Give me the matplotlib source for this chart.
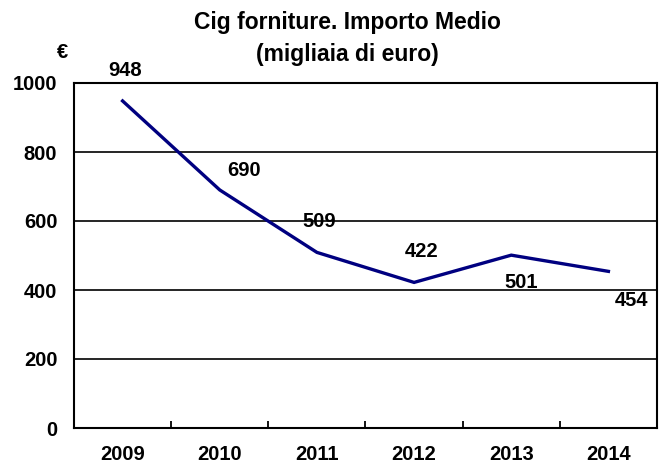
import matplotlib
matplotlib.use("Agg")
import matplotlib.pyplot as plt

years = ["2009", "2010", "2011", "2012", "2013", "2014"]
values = [948, 690, 509, 422, 501, 454]
label_offsets = [(2, 30), (24, 19), (2, 31), (7, 31), (10, -27), (23, -29)]
yticks = [0, 200, 400, 600, 800, 1000]

plt.rcParams['font.family'] = ['Liberation Sans', 'DejaVu Sans']
plt.rcParams['font.weight'] = 'bold'

fig = plt.figure(figsize=(6.62, 4.67), dpi=100)
ax = fig.add_axes([74/662, 1-428/467, (657-74)/662, (428-83)/467])

x = list(range(len(years)))
ax.plot(x, values, color='#000080', lw=2.4, solid_joinstyle='miter', zorder=3)

for xi, v, (dx, dy) in zip(x, values, label_offsets):
    ax.annotate(str(v), (xi, v), xytext=(dx, dy), textcoords='offset pixels',
                ha='center', va='center', fontsize=14.5, fontweight='bold', zorder=4)

ax.set_xlim(-0.5, len(years) - 0.5)
ax.set_ylim(0, 1000)
ax.set_yticks(yticks)
ax.set_yticklabels([str(t) for t in yticks], fontsize=14.5, fontweight='bold')
ax.set_xticks(x)
ax.set_xticklabels(years, fontsize=14.5, fontweight='bold')
ax.set_xticks([i + 0.5 for i in x[:-1]], minor=True)
ax.tick_params(axis='x', which='major', length=0, pad=12.5)
ax.tick_params(axis='x', which='minor', length=5, width=1.3, direction='in')
ax.tick_params(axis='y', which='major', length=0, pad=12)
ax.yaxis.grid(True, color='black', lw=1.2)
ax.set_axisbelow(True)
for s in ax.spines.values():
    s.set_linewidth(1.5)
    s.set_color('black')

fig.text(347/662, 1-23/467, "Cig forniture. Importo Medio", ha='center', va='center',
         fontsize=16.5, fontweight='bold')
fig.text(347/662, 1-54/467, "(migliaia di euro)", ha='center', va='center',
         fontsize=16.5, fontweight='bold')
fig.text(63/662, 1-53/467, "€", ha='center', va='center', fontsize=14.5, fontweight='bold')

fig.savefig("out.png", dpi=100)
